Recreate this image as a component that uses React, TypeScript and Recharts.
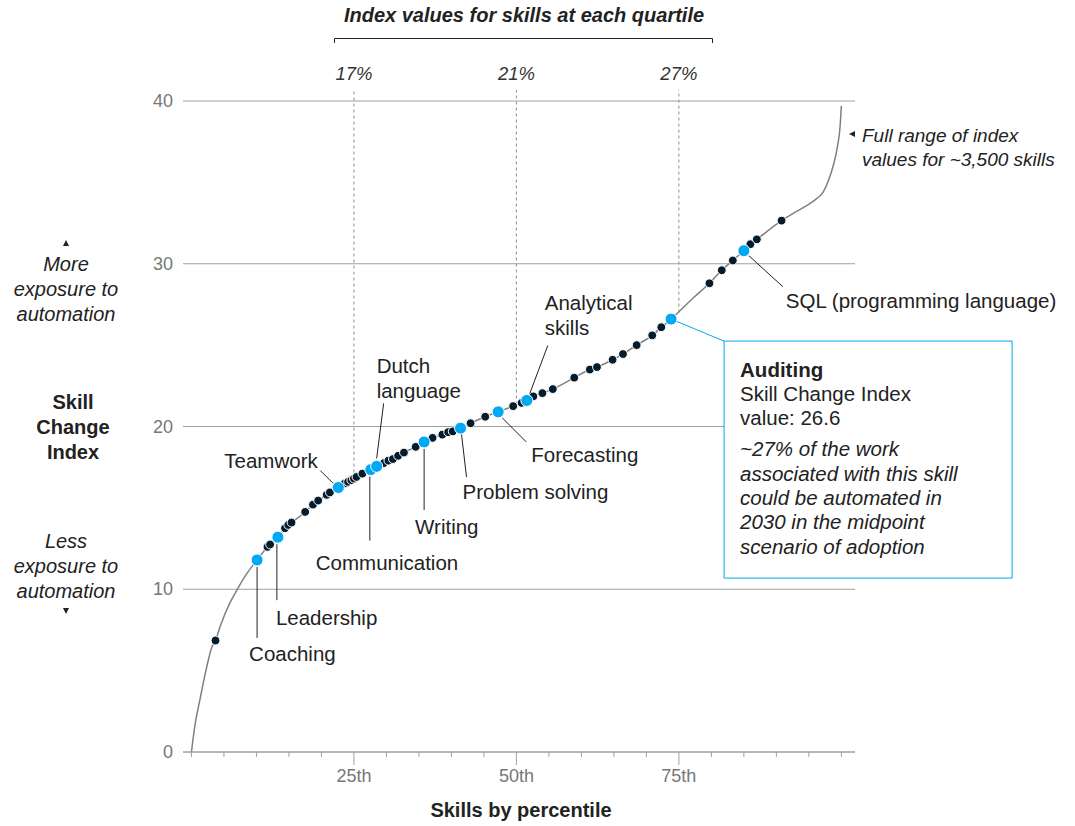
import React from "react";
import {
  ComposedChart,
  Line,
  Scatter,
  XAxis,
  YAxis,
  CartesianGrid,
  ReferenceLine,
  ReferenceDot,
} from "recharts";

const FONT = '"Liberation Sans", Arial, sans-serif';
const NAVY = "#051c2c";
const BLUE = "#00a9f4";
const TEXT = "#222";
const GRAY = "#a0a0a0";

// full curve of index values by percentile
const CURVE_P = [
  0, 0.5, 1.3, 1.9, 2.6, 3.1, 3.7, 4.4, 5.9, 7.0, 8.2, 9.5, 10.1, 11.7, 12.1,
  13.3, 14.4, 14.9, 15.4, 17.5, 18.7, 19.5, 20.8, 21.3, 22.6, 23.6, 24.1, 24.6,
  25.4, 26.3, 27.6, 28.5, 30.3, 31.0, 31.8, 32.7, 34.5, 35.8, 37.1, 38.6, 39.5,
  40.2, 41.4, 42.95, 45.2, 47.2, 49.5, 50.8, 51.6, 52.6, 54.0, 55.6, 58.9,
  61.3, 62.4, 64.8, 66.4, 68.5, 70.9, 72.3, 73.8, 77.2, 79.7, 81.6, 83.3, 85.0,
  86.0, 87.0, 90.8, 92.6, 94.6, 96.2, 97.2, 98.0, 98.8, 99.4, 99.8, 100,
];
const CURVE_V = [
  0, 1.55, 3.2, 4.4, 5.65, 6.4, 6.85, 7.7, 9.15, 9.95, 10.77, 11.5, 11.8, 12.6,
  12.75, 13.2, 13.75, 13.95, 14.1, 14.75, 15.2, 15.45, 15.8, 15.95, 16.25, 16.5,
  16.6, 16.7, 16.9, 17.1, 17.35, 17.55, 17.9, 18.0, 18.2, 18.4, 18.75, 19.05,
  19.3, 19.5, 19.65, 19.7, 19.9, 20.2, 20.6, 20.9, 21.25, 21.45, 21.6, 21.85,
  22.05, 22.3, 23.0, 23.5, 23.65, 24.1, 24.45, 25.0, 25.6, 26.1, 26.6, 27.9,
  28.8, 29.6, 30.2, 30.8, 31.2, 31.5, 32.65, 33.1, 33.55, 34.0, 34.4, 35.1,
  36.1, 37.2, 38.4, 39.7,
];

// individual skills marked on the curve
const SKILL_P = [
  3.7, 11.7, 12.1, 14.4, 14.9, 15.4, 17.5, 18.7, 19.5, 20.8, 21.3, 23.6, 24.1,
  24.6, 25.0, 25.4, 26.3, 29.6, 30.3, 31.0, 31.8, 32.7, 34.5, 37.1, 38.6, 39.5,
  40.2, 42.95, 45.2, 49.5, 50.8, 52.6, 54.0, 55.6, 58.9, 61.3, 62.4, 64.8,
  66.4, 68.5, 70.9, 72.3, 79.7, 81.6, 83.3, 86.0, 87.0, 90.8,
];
const SKILL_V = [
  6.85, 12.6, 12.75, 13.75, 13.95, 14.1, 14.75, 15.2, 15.45, 15.8, 15.95, 16.5,
  16.6, 16.7, 16.8, 16.9, 17.1, 17.75, 17.9, 18.0, 18.2, 18.4, 18.75, 19.3,
  19.5, 19.65, 19.7, 20.2, 20.6, 21.25, 21.45, 21.85, 22.05, 22.3, 23.0, 23.5,
  23.65, 24.1, 24.45, 25.0, 25.6, 26.1, 28.8, 29.6, 30.2, 31.2, 31.5, 32.65,
];

const HIGHLIGHT_NAMES = [
  "Coaching",
  "Leadership",
  "Teamwork",
  "Communication",
  "Dutch language",
  "Writing",
  "Problem solving",
  "Forecasting",
  "Analytical skills",
  "Auditing",
  "SQL (programming language)",
];
const HIGHLIGHT_P = [10.1, 13.3, 22.6, 27.6, 28.5, 35.8, 41.4, 47.2, 51.6, 73.8, 85.0];
const HIGHLIGHT_V = [11.8, 13.2, 16.25, 17.35, 17.55, 19.05, 19.9, 20.9, 21.6, 26.6, 30.8];

const X_TICKS = [0, 5, 10, 15, 20, 25, 30, 35, 40, 45, 50, 55, 60, 65, 70, 75, 80, 85, 90, 95, 100];
const X_TICK_LABELS: Record<number, string> = { 25: "25th", 50: "50th", 75: "75th" };
const Y_TICKS = [0, 10, 20, 30, 40];

const QUARTILES = [25, 50, 75];
const QUARTILE_VALUES = [16.8, 21.35, 27.0];
const QUARTILE_LABELS = ["17%", "21%", "27%"];

// leader line + label offsets relative to each highlighted dot (px)
const CALLOUTS: Record<
  string,
  { line: number[]; tx: number; ty: number; lines: string[] }
> = {
  Coaching: { line: [0, 7, 0, 78], tx: -8, ty: 94, lines: ["Coaching"] },
  Leadership: { line: [-1, 7, -1, 63], tx: -2, ty: 80, lines: ["Leadership"] },
  Teamwork: { line: [-5, -4, -18, -17], tx: -114, ty: -27, lines: ["Teamwork"] },
  Communication: { line: [-1, 7, -1, 71], tx: -55, ty: 93, lines: ["Communication"] },
  "Dutch language": { line: [0, -8, 7, -63], tx: 0, ty: -101, lines: ["Dutch", "language"] },
  Writing: { line: [0, 7, 0, 68], tx: -9, ty: 85, lines: ["Writing"] },
  "Problem solving": { line: [1, 6, 6, 49], tx: 2, ty: 63, lines: ["Problem solving"] },
  Forecasting: { line: [4, 6, 28, 30], tx: 33, ty: 43, lines: ["Forecasting"] },
  "Analytical skills": { line: [3, -7, 21, -55], tx: 18, ty: -98, lines: ["Analytical", "skills"] },
  "SQL (programming language)": { line: [5, 5, 39, 36], tx: 42, ty: 50, lines: ["SQL (programming language)"] },
};

const curveData = CURVE_P.map((p, i) => ({ p, v: CURVE_V[i] }));
const skillData = SKILL_P.map((p, i) => ({ p, v: SKILL_V[i] }));
const highlightData = HIGHLIGHT_P.map((p, i) => ({
  p,
  v: HIGHLIGHT_V[i],
  name: HIGHLIGHT_NAMES[i],
}));

const XTick = (props: any) => {
  const { x, y, payload } = props;
  const label = X_TICK_LABELS[payload.value];
  return (
    <g>
      <line x1={x} x2={x} y1={y} y2={y + (label ? 13 : 5)} stroke={GRAY} strokeWidth={1} />
      {label && (
        <text x={x} y={y + 24} textAnchor="middle" dominantBaseline="central" fill="#777" fontSize={18} fontFamily={FONT}>
          {label}
        </text>
      )}
    </g>
  );
};

const YTick = (props: any) => {
  const { x, y, payload } = props;
  return (
    <text x={x - 10} y={y} textAnchor="end" dominantBaseline="central" fill="#777" fontSize={18} fontFamily={FONT}>
      {payload.value}
    </text>
  );
};

const SkillDot = (props: any) => {
  const { cx, cy } = props;
  return <circle cx={cx} cy={cy} r={4.4} fill={NAVY} stroke="#fff" strokeWidth={1} />;
};

const AUDIT_LINES = [
  { t: "Auditing", bold: true, italic: false },
  { t: "Skill Change Index", bold: false, italic: false },
  { t: "value: 26.6", bold: false, italic: false },
  { t: "~27% of the work", bold: false, italic: true, gap: 7 },
  { t: "associated with this skill", bold: false, italic: true },
  { t: "could be automated in", bold: false, italic: true },
  { t: "2030 in the midpoint", bold: false, italic: true },
  { t: "scenario of adoption", bold: false, italic: true },
];

const HighlightDot = (props: any) => {
  const { cx, cy, payload } = props;
  const name = payload.name;
  if (name === "Auditing") {
    const bx = cx + 53;
    const by = cy + 22;
    let yy = by + 28;
    return (
      <g>
        <line x1={cx} y1={cy} x2={bx} y2={by} stroke={BLUE} strokeWidth={1} />
        <rect x={bx} y={by} width={288} height={237} fill="#fff" stroke={BLUE} strokeWidth={1} />
        {AUDIT_LINES.map((l, i) => {
          if (i > 0) yy += 24.3 + ((l as any).gap || 0);
          return (
            <text
              key={i}
              x={bx + 16}
              y={yy}
              dominantBaseline="central"
              fontSize={20.5}
              fontFamily={FONT}
              fontWeight={l.bold ? "bold" : "normal"}
              fontStyle={l.italic ? "italic" : "normal"}
              fill={TEXT}
            >
              {l.t}
            </text>
          );
        })}
        <circle cx={cx} cy={cy} r={6} fill={BLUE} stroke="#fff" strokeWidth={1} />
      </g>
    );
  }
  const c = CALLOUTS[name];
  return (
    <g>
      {c && (
        <>
          <line
            x1={cx + c.line[0]}
            y1={cy + c.line[1]}
            x2={cx + c.line[2]}
            y2={cy + c.line[3]}
            stroke={TEXT}
            strokeWidth={1}
          />
          {c.lines.map((t, i) => (
            <text
              key={i}
              x={cx + c.tx}
              y={cy + c.ty + i * 25}
              dominantBaseline="central"
              fontSize={20.5}
              fontFamily={FONT}
              fill={TEXT}
            >
              {t}
            </text>
          ))}
        </>
      )}
      <circle cx={cx} cy={cy} r={6} fill={BLUE} stroke="#fff" strokeWidth={1} />
    </g>
  );
};

const Tri = ({ x, y, dir }: { x: number; y: number; dir: "up" | "down" | "left" }) => {
  const pts =
    dir === "up"
      ? `${x - 3},${y + 3} ${x + 3},${y + 3} ${x},${y - 3}`
      : dir === "down"
      ? `${x - 3},${y - 3} ${x + 3},${y - 3} ${x},${y + 3}`
      : `${x + 3},${y - 3} ${x + 3},${y + 3} ${x - 3},${y}`;
  return <polygon points={pts} fill={TEXT} />;
};

export default function App() {
  return (
    <div
      style={{
        position: "absolute",
        left: 0,
        top: 0,
        width: 1075,
        height: 826,
        background: "#fff",
        fontFamily: FONT,
      }}
    >
      <ComposedChart
        width={1075}
        height={826}
        margin={{ top: 101, right: 220, bottom: 0, left: 0 }}
      >
        <CartesianGrid vertical={false} stroke={GRAY} strokeWidth={1} />
        <XAxis
          type="number"
          dataKey="p"
          domain={[-1.3, 102.1]}
          ticks={X_TICKS}
          interval={0}
          height={74}
          tickSize={0}
          tickMargin={0}
          tickLine={false}
          axisLine={{ stroke: GRAY, strokeWidth: 1 }}
          tick={<XTick />}
        />
        <YAxis
          type="number"
          domain={[0, 40]}
          ticks={Y_TICKS}
          width={183}
          tickSize={0}
          tickMargin={0}
          tickLine={false}
          axisLine={false}
          tick={<YTick />}
        />
        {QUARTILES.map((q, i) => (
          <ReferenceLine
            key={q}
            segment={[
              { x: q, y: QUARTILE_VALUES[i] },
              { x: q, y: 40.68 },
            ]}
            ifOverflow="visible"
            stroke="#8c8c8c"
            strokeWidth={1}
            strokeDasharray="3 3"
          />
        ))}
        {QUARTILES.map((q, i) => (
          <ReferenceDot
            key={"l" + q}
            x={q}
            y={41.72}
            r={1}
            fill="none"
            stroke="none"
            ifOverflow="visible"
            label={{
              value: QUARTILE_LABELS[i],
              position: "center",
              fill: "#333",
              fontSize: 18.5,
              fontStyle: "italic",
              fontFamily: FONT,
            }}
          />
        ))}
        <Line
          data={curveData}
          dataKey="v"
          type="monotone"
          stroke="#808080"
          strokeWidth={1.5}
          dot={false}
          activeDot={false}
          isAnimationActive={false}
        />
        <Scatter data={skillData} dataKey="v" shape={<SkillDot />} isAnimationActive={false} />
        <Scatter data={highlightData} dataKey="v" shape={<HighlightDot />} isAnimationActive={false} />
      </ComposedChart>

      <svg
        width={1075}
        height={826}
        style={{ position: "absolute", left: 0, top: 0, pointerEvents: "none" }}
        fontFamily={FONT}
      >
        <text x={524} y={15} textAnchor="middle" dominantBaseline="central" fontSize={20} fontWeight="bold" fontStyle="italic" fill={TEXT}>
          Index values for skills at each quartile
        </text>
        <polyline points="334.5,43 334.5,38.5 712.5,38.5 712.5,43" fill="none" stroke={TEXT} strokeWidth={1} />

        <Tri x={66} y={243} dir="up" />
        {["More", "exposure to", "automation"].map((t, i) => (
          <text key={t} x={66} y={264 + i * 25} textAnchor="middle" dominantBaseline="central" fontSize={20} fontStyle="italic" fill={TEXT}>
            {t}
          </text>
        ))}
        {["Skill", "Change", "Index"].map((t, i) => (
          <text key={t} x={73} y={402 + i * 25} textAnchor="middle" dominantBaseline="central" fontSize={20} fontWeight="bold" fill={TEXT}>
            {t}
          </text>
        ))}
        {["Less", "exposure to", "automation"].map((t, i) => (
          <text key={t + i} x={66} y={541 + i * 25} textAnchor="middle" dominantBaseline="central" fontSize={20} fontStyle="italic" fill={TEXT}>
            {t}
          </text>
        ))}
        <Tri x={66} y={611} dir="down" />

        <Tri x={852} y={134} dir="left" />
        <text x={862} y={135} dominantBaseline="central" fontSize={19} fontStyle="italic" fill={TEXT}>
          Full range of index
        </text>
        <text x={862} y={159} dominantBaseline="central" fontSize={19} fontStyle="italic" fill={TEXT}>
          values for ~3,500 skills
        </text>

        <text x={521} y={810} textAnchor="middle" dominantBaseline="central" fontSize={20} fontWeight="bold" fill={TEXT}>
          Skills by percentile
        </text>
      </svg>
    </div>
  );
}
